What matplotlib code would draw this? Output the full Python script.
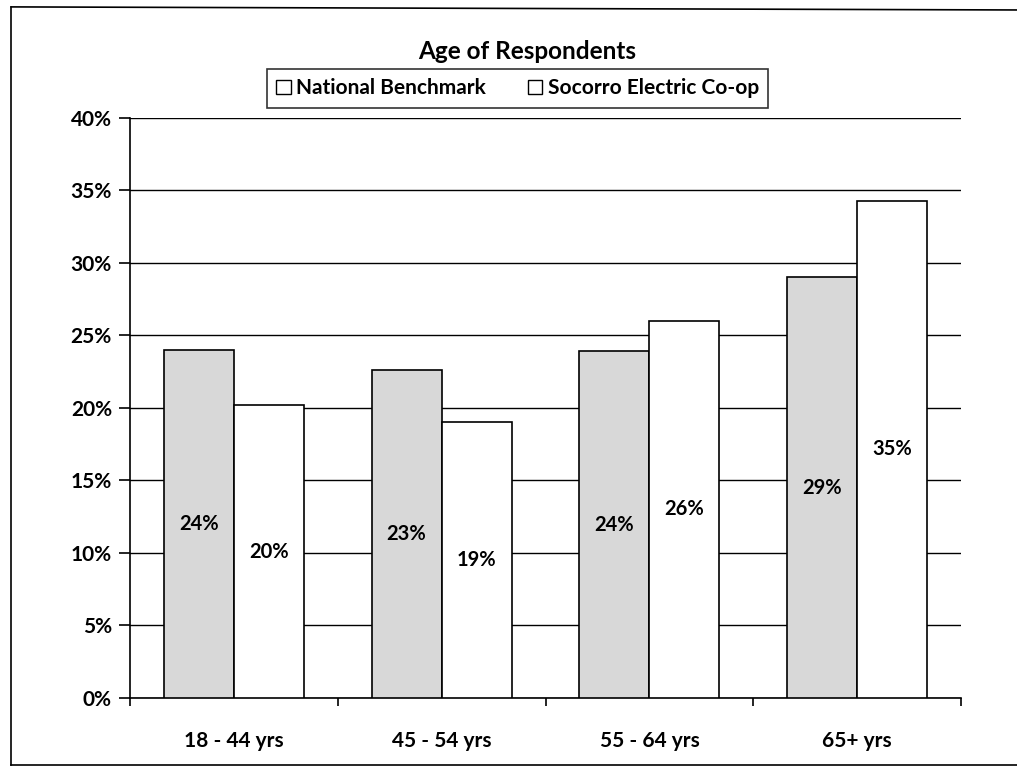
import matplotlib
matplotlib.use('Agg')
import matplotlib.pyplot as plt
import numpy as np
from matplotlib.lines import Line2D
from matplotlib.patches import Patch

categories = ['18 - 44 yrs', '45 - 54 yrs', '55 - 64 yrs', '65+ yrs']
national = [24.0, 22.6, 23.9, 29.0]
socorro = [20.2, 19.0, 26.0, 34.3]
national_labels = ['24%', '23%', '24%', '29%']
socorro_labels = ['20%', '19%', '26%', '35%']
series_names = ['National Benchmark', 'Socorro Electric Co-op']
yticks = [0, 5, 10, 15, 20, 25, 30, 35, 40]
ytick_labels = ['0%', '5%', '10%', '15%', '20%', '25%', '30%', '35%', '40%']

plt.rcParams['font.family'] = ['Lato', 'DejaVu Sans']
plt.rcParams['font.weight'] = 'bold'


def main():
    fig = plt.figure(figsize=(10.17, 7.67), dpi=100)
    ax = fig.add_axes([0.1278, 0.09, 0.8172, 0.7562])

    x = np.arange(len(categories))
    w = 0.337
    ax.bar(x - w / 2, national, w, color='#d8d8d8', edgecolor='black',
           linewidth=1.2, zorder=3)
    ax.bar(x + w / 2, socorro, w, color='white', edgecolor='black',
           linewidth=1.2, zorder=3)

    for xi, v, lab in zip(x - w / 2, national, national_labels):
        ax.text(xi, v / 2, lab, ha='center', va='center', fontsize=14.5,
                fontweight='bold', zorder=4)
    for xi, v, lab in zip(x + w / 2, socorro, socorro_labels):
        ax.text(xi, v / 2, lab, ha='center', va='center', fontsize=14.5,
                fontweight='bold', zorder=4)

    ax.set_xlim(-0.5, len(categories) - 0.5)
    ax.set_ylim(0, 40)
    ax.set_yticks(yticks)
    ax.set_yticklabels(ytick_labels, fontsize=15, fontweight='bold')
    ax.set_xticks(x)
    ax.set_xticklabels(categories, fontsize=15, fontweight='bold')
    ax.set_xticks(np.arange(len(categories) + 1) - 0.5, minor=True)

    ax.grid(axis='y', color='black', linewidth=1.0, zorder=0)
    ax.set_axisbelow(True)
    for s in ['top', 'right']:
        ax.spines[s].set_visible(False)
    for s in ['left', 'bottom']:
        ax.spines[s].set_color('black')
        ax.spines[s].set_linewidth(1.2)

    ax.tick_params(axis='y', length=8, width=1.2, pad=5, direction='out')
    ax.tick_params(axis='x', which='major', length=0, pad=24)
    ax.tick_params(axis='x', which='minor', length=6, width=1.2,
                   direction='out')

    fig.text(0.518, 0.933, 'Age of Respondents', ha='center', va='center',
             fontsize=17.5, fontweight='bold')

    handles = [Patch(facecolor='white', edgecolor='black', linewidth=1.0)
               for _ in series_names]
    leg = fig.legend(handles, series_names, loc='center',
                     bbox_to_anchor=(0.509, 0.885), ncol=2, fontsize=15,
                     frameon=True, fancybox=False, handlelength=0.7,
                     handleheight=0.7, handletextpad=0.25, columnspacing=2.0,
                     borderpad=0.45, borderaxespad=0)
    leg.get_frame().set_edgecolor('black')
    leg.get_frame().set_linewidth(1.2)

    # page border around the chart area (open on the right side)
    for xs, ys in [((0.011, 0.011), (0.003, 0.991)),
                   ((0.011, 1.0), (0.991, 0.987)),
                   ((0.011, 1.0), (0.003, 0.003))]:
        fig.add_artist(Line2D(xs, ys, color='black', linewidth=1.2,
                              transform=fig.transFigure))

    fig.savefig('out.png', dpi=100)


if __name__ == '__main__':
    main()
